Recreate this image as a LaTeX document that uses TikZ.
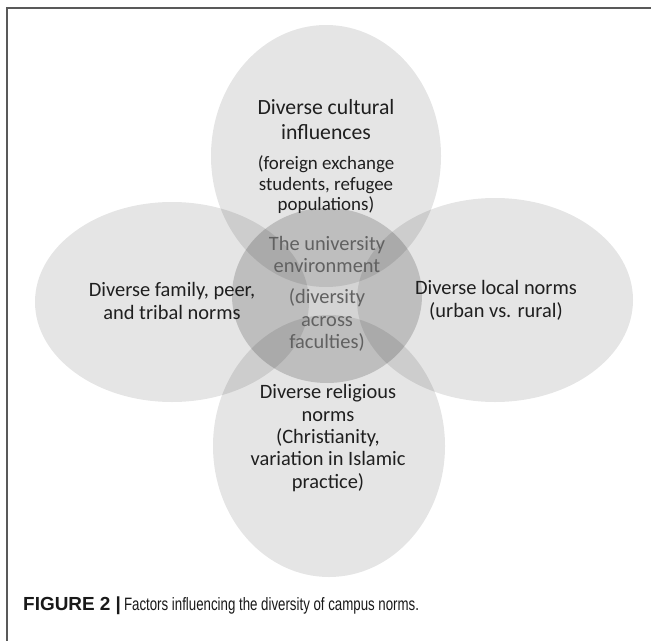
\documentclass[tikz,border=0pt]{standalone}
\usepackage{fontspec}
\setmainfont{Carlito}
\newfontfamily\capsans{Liberation Sans}
\usetikzlibrary{shapes.geometric}
\begin{document}
\begin{tikzpicture}[x=1bp,y=-1bp,
  petal/.style={ellipse, draw=none, fill=black, fill opacity=0.1, inner sep=0pt},
  hub/.style={ellipse, draw=none, fill=black, fill opacity=0.17, inner sep=0pt},
  lbl/.style={align=center, text=black!88, inner sep=0pt, font=\fontsize{20.5}{22.5}\selectfont},
  hublbl/.style={align=center, text=black!62, inner sep=0pt, font=\fontsize{20.5}{23}\selectfont}]
% page and frame
\useasboundingbox (0,0) rectangle (651,641);
\fill[white] (0,0) rectangle (651,641);
\draw[black!65, line width=1.2bp] (7,641) -- (7,8) -- (651,8);

% four outer ellipses and the central one
\node[petal, minimum width=230bp, minimum height=262bp] (top) at (326,156) {};
\node[petal, minimum width=274bp, minimum height=200bp] (left) at (172,302) {};
\node[petal, minimum width=276bp, minimum height=204bp] (right) at (495,300) {};
\node[petal, minimum width=232bp, minimum height=262bp] (bottom) at (329,446) {};
\node[hub, minimum width=190bp, minimum height=175bp] (hub) at (327,295.5) {};

% labels
\node[lbl, font=\fontsize{21.8}{25}\selectfont] (toptitle) at (326,119.5) {Diverse cultural\\influences};
\node[lbl, font=\fontsize{19}{20.5}\selectfont] (topsub) at (326,185) {(foreign exchange\\students, refugee\\populations)};
\node[lbl] (lefttext) at (172,301) {Diverse family, peer,\\and tribal norms};
\node[lbl] (righttext) at (496,300.5) {Diverse local norms\\(urban vs. rural)};
\node[lbl] (bottomtext) at (328,438) {Diverse religious\\norms\\(Christianity,\\variation in Islamic\\practice)};
\node[hublbl] (hubtitle) at (327,254.5) {The university\\environment};
\node[hublbl] (hubsub) at (327,320) {(diversity\\across\\faculties)};

% caption
\node[anchor=base west, inner sep=0pt, text=black!90, font=\capsans\fontsize{18}{21}\selectfont] (caption) at (23,610)
  {{\fontsize{19}{21}\selectfont\bfseries FIGURE 2 |}\hspace{3bp}\scalebox{0.74}[1]{Factors influencing the diversity of campus norms.}};
\end{tikzpicture}
\end{document}
